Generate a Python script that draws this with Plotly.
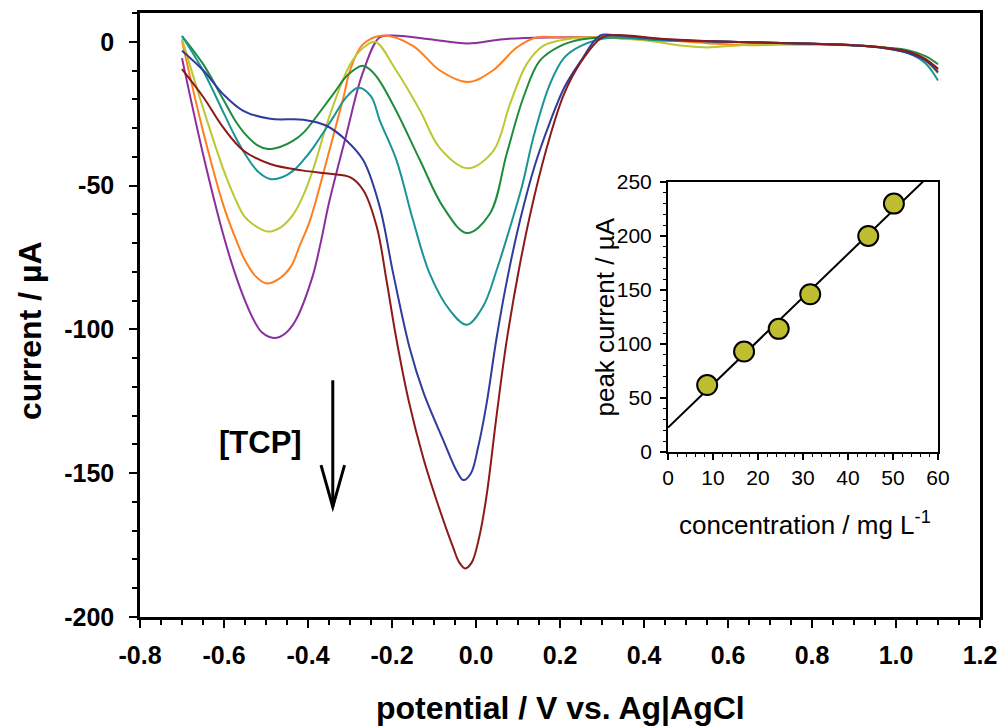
import numpy as np
import plotly.graph_objects as go

# ---------------- main voltammograms (potential V, current uA) ----------------
purple_x = [-0.70, -0.65, -0.60, -0.575, -0.55, -0.53, -0.51, -0.48, -0.455, -0.43, -0.39, -0.37, -0.35, -0.31, -0.27, -0.23, -0.20, -0.11, -0.02, 0.065, 0.17, 0.30, 0.45, 0.60, 0.75, 0.90, 0.97, 1.03, 1.07, 1.10]
purple_y = [-5.7, -39, -68, -80, -90, -96.5, -101, -103, -101.5, -97, -82, -70, -56, -33, -11, 1.5, 2.2, 0.9, -0.6, 0.9, 1.5, 1.5, 0.5, 0.0, -0.5, -1.2, -2.0, -3.5, -6.0, -9.5]

orange_x = [-0.70, -0.65, -0.60, -0.575, -0.55, -0.525, -0.50, -0.47, -0.44, -0.42, -0.395, -0.355, -0.315, -0.30, -0.27, -0.22, -0.15, -0.086, -0.02, 0.04, 0.097, 0.144, 0.20, 0.30, 0.45, 0.55, 0.65, 0.75, 0.90, 0.97, 1.03, 1.07, 1.10]
orange_y = [0.3, -31, -57.5, -67.5, -76, -81.5, -84, -82.5, -78, -71, -62, -41, -19, -10, -1, 2.2, -1.4, -10, -14, -10, -2, 1.5, 1.5, 1.5, 0.5, -0.5, -1.2, -0.8, -1.2, -2.0, -3.5, -6.0, -10]

yellow_x = [-0.70, -0.65, -0.60, -0.575, -0.55, -0.52, -0.495, -0.465, -0.435, -0.41, -0.387, -0.348, -0.30, -0.268, -0.24, -0.19, -0.133, -0.086, -0.02, 0.041, 0.081, 0.121, 0.16, 0.22, 0.30, 0.40, 0.50, 0.55, 0.65, 0.75, 0.90, 0.97, 1.03, 1.07, 1.10]
yellow_y = [1.0, -23, -45, -54, -61, -64.5, -66, -64.5, -60, -53, -44, -25.5, -8, -2, 0.0, -10, -24, -37, -44, -38, -21.6, -7.7, -1.4, 1.0, 1.5, 0.5, -1.5, -2.0, -1.0, -1.0, -1.2, -2.0, -3.5, -6.5, -11]

green_x = [-0.70, -0.65, -0.60, -0.575, -0.55, -0.52, -0.495, -0.465, -0.435, -0.41, -0.387, -0.34, -0.305, -0.27, -0.25, -0.23, -0.19, -0.133, -0.078, -0.022, 0.033, 0.073, 0.113, 0.152, 0.20, 0.25, 0.32, 0.45, 0.60, 0.75, 0.90, 0.97, 1.03, 1.07, 1.10]
green_y = [2.0, -7.7, -20.5, -27, -32, -36, -37.3, -36.5, -34.4, -31.5, -27.4, -18.2, -11.5, -8.3, -10, -13.5, -24, -41.3, -57.5, -66.5, -59.8, -39, -19.3, -6.6, -1.5, 0.8, 1.5, 0.5, 0.0, -0.5, -1.2, -2.0, -3.0, -5.0, -7.8]

teal_x = [-0.70, -0.65, -0.60, -0.575, -0.55, -0.52, -0.49, -0.46, -0.435, -0.41, -0.387, -0.34, -0.31, -0.28, -0.25, -0.229, -0.189, -0.15, -0.11, -0.062, -0.022, 0.017, 0.05, 0.08, 0.11, 0.137, 0.176, 0.21, 0.25, 0.32, 0.45, 0.60, 0.75, 0.90, 0.97, 1.03, 1.07, 1.10]
teal_y = [2.0, -10, -25, -32.5, -39, -45, -47.7, -47, -44.8, -41, -36.7, -26.3, -19.5, -16, -19, -27.4, -41.3, -62, -80.7, -93.4, -98.4, -92, -79, -65, -50, -33, -14.7, -5.5, -1.4, 1.5, 0.5, 0.0, -0.5, -1.3, -2.2, -4.0, -7.5, -13.5]

blue_x = [-0.70, -0.649, -0.602, -0.554, -0.49, -0.411, -0.356, -0.308, -0.268, -0.229, -0.197, -0.157, -0.125, -0.078, -0.045, -0.030, -0.012, 0.005, 0.025, 0.049, 0.075, 0.105, 0.14, 0.176, 0.21, 0.248, 0.295, 0.33, 0.45, 0.60, 0.75, 0.90, 0.97, 1.03, 1.07, 1.10]
blue_y = [-3.1, -10, -18.2, -24, -26.8, -27.1, -29.2, -34.4, -41.3, -57.5, -80.7, -107, -122, -138.5, -149.5, -152.4, -150, -141, -126, -103, -82, -62, -43, -28, -16, -7, 2.1, 2.3, 0.8, 0.0, -0.5, -1.3, -2.2, -4.0, -6.5, -10.6]

red_x = [-0.70, -0.649, -0.602, -0.554, -0.49, -0.411, -0.348, -0.30, -0.268, -0.236, -0.213, -0.19, -0.16, -0.125, -0.094, -0.054, -0.04, -0.026, -0.01, 0.008, 0.025, 0.049, 0.073, 0.105, 0.14, 0.176, 0.21, 0.25, 0.30, 0.33, 0.45, 0.60, 0.75, 0.90, 0.97, 1.03, 1.07, 1.10]
red_y = [-9.5, -19.3, -29.8, -37.8, -42.5, -44.8, -45.9, -47.1, -51.7, -64.5, -83, -103, -125, -145, -159.4, -176, -181, -183.1, -181, -172, -158, -130, -104, -77, -53, -33, -18, -7, 1.5, 2.3, 1.0, 0.0, -0.5, -1.2, -2.0, -3.5, -6.0, -9.4]

# ---------------- inset calibration ----------------
conc = [8.7, 16.9, 24.6, 31.6, 44.5, 50.2]
peak = [62, 93, 114, 146, 200, 230]

# ---------------- tick labels ----------------
x_tickvals = [-0.8, -0.6, -0.4, -0.2, 0.0, 0.2, 0.4, 0.6, 0.8, 1.0, 1.2]
x_ticktext = ["-0.8", "-0.6", "-0.4", "-0.2", "0.0", "0.2", "0.4", "0.6", "0.8", "1.0", "1.2"]
y_tickvals = [0, -50, -100, -150, -200]
y_ticktext = ["0", "-50", "-100", "-150", "-200"]
ix_tickvals = [0, 10, 20, 30, 40, 50, 60]
iy_tickvals = [0, 50, 100, 150, 200, 250]

FONT = "Liberation Sans, Arial, sans-serif"

series = [
    (purple_x, purple_y, "#8C2E9E"),
    (orange_x, orange_y, "#FF7F1E"),
    (yellow_x, yellow_y, "#BCC832"),
    (green_x, green_y, "#1E8C3C"),
    (teal_x, teal_y, "#1A9494"),
    (blue_x, blue_y, "#2E3C9C"),
    (red_x, red_y, "#8C1A1A"),
]

fig = go.Figure()
for xs, ys, col in series:
    fig.add_trace(go.Scatter(x=xs, y=ys, mode="lines", line=dict(color=col, width=2, shape="spline", smoothing=1.0),
                             xaxis="x", yaxis="y", showlegend=False, hoverinfo="skip"))

slope, intercept = np.polyfit(conc, peak, 1)
fit_x = [0, 60]
fit_y = [intercept + slope * v for v in fit_x]
fig.add_trace(go.Scatter(x=fit_x, y=fit_y, mode="lines", line=dict(color="black", width=2),
                         xaxis="x2", yaxis="y2", showlegend=False))
fig.add_trace(go.Scatter(x=conc, y=peak, mode="markers",
                         marker=dict(size=20, color="#BEBE30", line=dict(color="black", width=2)),
                         xaxis="x2", yaxis="y2", showlegend=False, cliponaxis=False))

main_axis = dict(showline=True, linecolor="black", linewidth=2.5, mirror=True, showgrid=False, zeroline=False,
                 ticks="outside", ticklen=8, tickwidth=2, tickcolor="black", automargin=False,
                 tickfont=dict(family=FONT, size=25, color="black", weight="bold"))
inset_axis = dict(showline=True, linecolor="black", linewidth=2, mirror=True, showgrid=False, zeroline=False,
                  ticks="outside", ticklen=6, tickwidth=1.5, tickcolor="black", automargin=False,
                  tickfont=dict(family=FONT, size=21, color="black"))
fig.update_layout(
    width=1001, height=727,
    margin=dict(l=140, r=21, t=13, b=110, autoexpand=False),
    paper_bgcolor="white", plot_bgcolor="white",
    xaxis=dict(main_axis, range=[-0.8, 1.2], domain=[0, 1], tickvals=x_tickvals, ticktext=x_ticktext,
               minor=dict(dtick=0.05, ticks="outside", ticklen=5, tickwidth=1.5, tickcolor="black"),
               ticklabelstandoff=6),
    yaxis=dict(main_axis, range=[-200, 10], domain=[0, 1], tickvals=y_tickvals, ticktext=y_ticktext,
               minor=dict(dtick=10, ticks="outside", ticklen=5, tickwidth=1.5, tickcolor="black"),
               ticklabelstandoff=10),
    xaxis2=dict(inset_axis, range=[0, 60], domain=[0.6286, 0.95], anchor="y2", tickvals=ix_tickvals,
                minor=dict(dtick=2, ticks="outside", ticklen=3, tickwidth=1, tickcolor="black")),
    yaxis2=dict(inset_axis, range=[0, 250], domain=[0.2732, 0.7202], anchor="x2", tickvals=iy_tickvals,
                minor=dict(dtick=10, ticks="outside", ticklen=3, tickwidth=1, tickcolor="black"),
                ticklabelstandoff=4),
)

annotations = [
    dict(text="potential / V vs. Ag|AgCl", x=0.5, y=-0.1507, xref="paper", yref="paper",
         xanchor="center", yanchor="middle", showarrow=False,
         font=dict(family=FONT, size=32, color="black", weight="bold")),
    dict(text="current / µA", x=-0.131, y=0.4735, xref="paper", yref="paper", textangle=-90,
         xanchor="center", yanchor="middle", showarrow=False,
         font=dict(family=FONT, size=32, color="black", weight="bold")),
    dict(text="[TCP]", x=0.144, y=0.2897, xref="paper", yref="paper",
         xanchor="center", yanchor="middle", showarrow=False,
         font=dict(family=FONT, size=31, color="black", weight="bold")),
    dict(text="concentration / mg L<sup>-1</sup>", x=0.7917, y=0.1556, xref="paper", yref="paper",
         xanchor="center", yanchor="middle", showarrow=False,
         font=dict(family=FONT, size=26, color="black")),
    dict(text="peak current / µA", x=0.5530, y=0.4967, xref="paper", yref="paper", textangle=-90,
         xanchor="center", yanchor="middle", showarrow=False,
         font=dict(family=FONT, size=26, color="black")),
]
fig.update_layout(annotations=annotations)

# arrow indicating increasing concentration
arrow_x = -0.341
arrow_top, arrow_tip, arm_y, arm_dx = -117.7, -161.7, -147.2, 0.028
fig.add_shape(type="line", x0=arrow_x, x1=arrow_x, y0=arrow_top, y1=arrow_tip, xref="x", yref="y",
              line=dict(color="black", width=3))
fig.add_shape(type="path", xref="x", yref="y",
              path=f"M {arrow_x-arm_dx},{arm_y} L {arrow_x},{arrow_tip} L {arrow_x+arm_dx},{arm_y}",
              line=dict(color="black", width=3))

fig.write_html("out.html", config={"displayModeBar": False},
               post_script="document.body.style.margin='0';document.body.style.padding='0';")
